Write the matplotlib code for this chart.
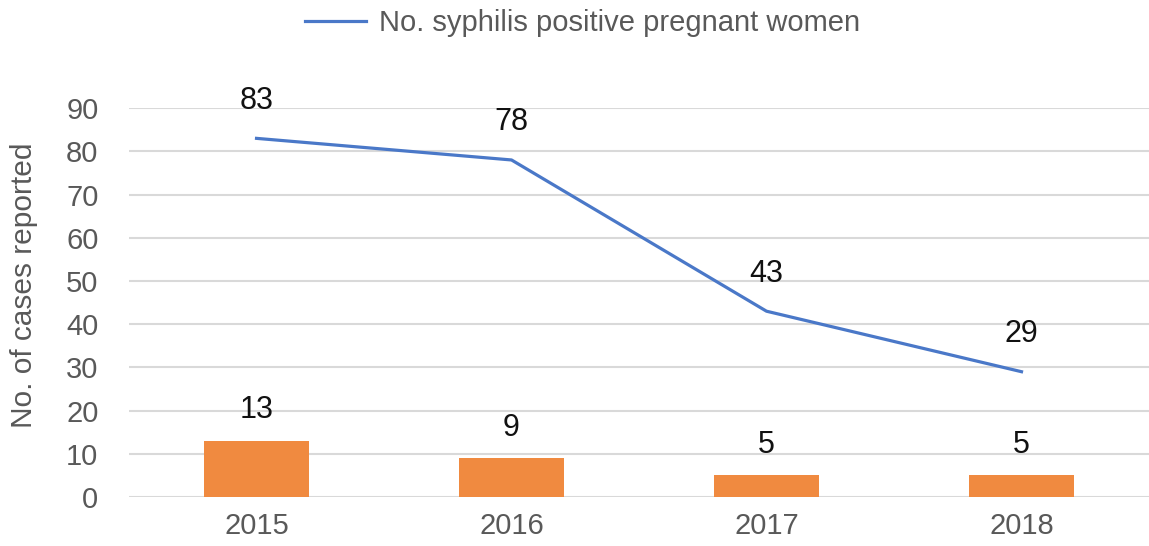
import matplotlib
matplotlib.use("Agg")
import matplotlib.pyplot as plt
import numpy as np

years = ["2015", "2016", "2017", "2018"]
positive_women = [83, 78, 43, 29]
other_cases = [13, 9, 5, 5]
yticks = [0, 10, 20, 30, 40, 50, 60, 70, 80, 90]

plt.rcParams['font.family'] = ['Liberation Sans', 'DejaVu Sans']

fig = plt.figure(figsize=(11.49, 5.46), dpi=100)
ax = fig.add_axes([0.1123, 0.0897, 0.8877, 0.7123])

x = np.arange(len(years))
bars = ax.bar(x, other_cases, width=0.41, color="#F08A40", zorder=2)
line, = ax.plot(x, positive_women, color="#4A78C8", lw=2.3, zorder=3,
                label="No. syphilis positive pregnant women")

for xi, v in zip(x, positive_women):
    ax.annotate(str(v), (xi, v), xytext=(0, 27), textcoords="offset points",
                ha="center", va="center", fontsize=22, color="#111111")
for xi, v in zip(x, other_cases):
    ax.annotate(str(v), (xi, v), xytext=(0, 22), textcoords="offset points",
                ha="center", va="center", fontsize=22, color="#111111")

ax.set_xlim(-0.5, 3.5)
ax.set_ylim(0, 90)
ax.set_yticks(yticks)
ax.set_xticks(x)
ax.set_xticklabels(years)
ax.tick_params(axis="both", length=0, labelsize=21, labelcolor="#595959")
ax.tick_params(axis="y", pad=22)
ax.tick_params(axis="x", pad=11)
for s in ax.spines.values():
    s.set_visible(False)
ax.grid(axis="y", color="#D9D9D9", lw=1.5, zorder=0)
ax.set_axisbelow(True)
ax.set_ylabel("No. of cases reported", fontsize=21.5, color="#595959")
ax.yaxis.set_label_coords(-0.089, 0.545)

fig.legend(handles=[line], loc="center", bbox_to_anchor=(0.507, 0.958),
           frameon=False, fontsize=21, labelcolor="#595959",
           handlelength=2.1, handletextpad=0.45)

fig.savefig("out.png", dpi=100)
